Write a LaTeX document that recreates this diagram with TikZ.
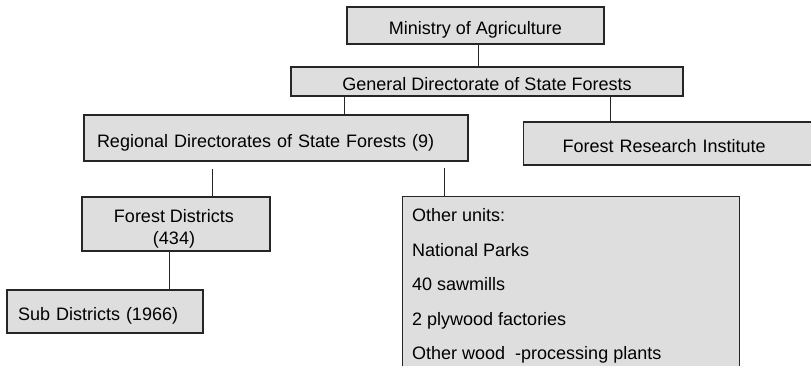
\documentclass[tikz,border=0pt]{standalone}
\usepackage{fontspec}
\setmainfont{Liberation Sans}
\begin{document}
\begin{tikzpicture}[x=1pt,y=-1pt,
  unitbox/.style={draw=black!85, line width=1.1pt, fill=gray!26, inner sep=0pt,
                  font=\fontsize{18}{22}\selectfont, text height=18.5pt, text depth=0pt},
  bare/.style={draw=black!85, line width=1.1pt, fill=gray!26, inner sep=0pt},
  boxtext/.style={inner sep=0pt, align=left},
  link/.style={line width=0.9pt, draw=black!85}]
\clip (0,0) rectangle (811,365);
\fill[white] (0,0) rectangle (811,365);

% single-line boxes
\node[unitbox, minimum width=257, minimum height=37] (min) at (475.5,25.5) {Ministry of Agriculture};
\node[unitbox, minimum width=392, minimum height=29] (gen) at (487,81.5) {General Directorate of State Forests};
\node[unitbox, minimum height=46, text width=358, inner xsep=13, align=left] (reg) at (276,138)
  {Regional Directorates of State Forests (9)};
\node[unitbox, anchor=west, minimum height=43, text width=240, inner xsep=39, align=left] (fri) at (523,143.5)
  {Forest Research Institute};
\node[unitbox, minimum height=43, text width=174, inner xsep=11, align=left] (sd) at (105,311.5)
  {Sub Districts (1966)};

% boxes with several lines of text
\node[bare, minimum width=188, minimum height=54] (fd) at (176,224) {};
\node[boxtext, align=center, font=\fontsize{18}{22}\selectfont] (fdtext) at ([shift={(-2,4.5)}]fd.center)
  {Forest Districts\\(434)};
\node[bare, anchor=north west, minimum width=337, minimum height=180] (ou) at (402,196) {};
\node[boxtext, anchor=north west, font=\fontsize{18}{34.5}\selectfont] (oulist)
  at ([shift={(10,12.5)}]ou.north west)
  {Other units:\\National Parks\\40 sawmills\\2 plywood factories\\Other wood~~-processing plants};

% connectors
\draw[link] ([xshift=2.5]min.south) -- ([xshift=2.5]min.south |- gen.north);
\draw[link] ([xshift=54]gen.south west) -- ([xshift=54]gen.south west |- reg.north);
\draw[link] ([xshift=87]fri.north west |- gen.south) -- ([xshift=87]fri.north west);
\draw[link, shorten <=7pt] ([xshift=131]fd.north west |- reg.south) -- ([xshift=131]fd.north west);
\draw[link, shorten <=6pt] ([xshift=42]ou.north west |- reg.south) -- ([xshift=42]ou.north west);
\draw[link] ([xshift=88]fd.south west) -- ([xshift=88]fd.south west |- sd.north);
\end{tikzpicture}
\end{document}
